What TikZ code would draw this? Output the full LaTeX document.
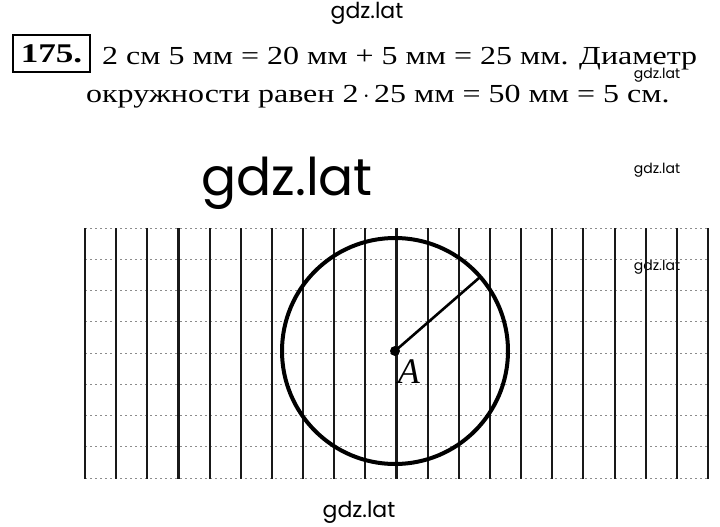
\documentclass[tikz,border=0pt]{standalone}
\usepackage{fontspec}
\usetikzlibrary{calc}
\setmainfont{Liberation Serif}
\newfontfamily\bodyfont[FakeStretch=1.23]{Liberation Serif}
\newfontfamily\numfont[FakeStretch=1.3]{Liberation Serif}
\newfontfamily\wmfont{Poppins}
\begin{document}
\begin{tikzpicture}[x=1pt,y=-1pt,
  txt/.style={font=\bodyfont\fontsize{26}{30}\selectfont, inner sep=0pt, anchor=base west},
  wm/.style={font=\wmfont\fontsize{#1}{#1}\selectfont, inner sep=0pt},
  vline/.style={line width=2.1pt, black!90},
  hline/.style={line width=1pt, black!45, dash pattern=on 2pt off 3pt},
  circ/.style={line width=4pt, black}]
\useasboundingbox (0,0) rectangle (720,527);
% watermarks
\node[wm=22] (w1) at (367,13) {gdz.lat};
\node[wm=14] (w2) at (657,75) {gdz.lat};
\node[wm=52] (w3) at (287,183) {gdz.lat};
\node[wm=14] (w4) at (657,170) {gdz.lat};
\node[wm=14] (w5) at (657,267) {gdz.lat};
\node[wm=22] (w6) at (359,512) {gdz.lat};
% header
\node[draw, line width=1.2pt, inner sep=0pt, minimum width=77pt, minimum height=37pt,
      font=\numfont\bfseries\fontsize{27}{30}\selectfont] (num) at (51.5,53.5) {175.};
\node[txt] (l1) at (102,64) {2 см 5 мм = 20 мм + 5 мм = 25 мм. Диаметр};
\node[txt] (l2) at (86,102) {окружности равен 2\,$\cdot$\,25 мм = 50 мм = 5 см.};
% grid
\foreach \i in {0,...,8} {
  \draw[hline] (85,228+31.25*\i) -- (708,228+31.25*\i);
}
\foreach \i in {0,...,20} {
  \draw[vline] (85+31.15*\i,228) -- (85+31.15*\i,479);
}
% circle
\coordinate (A) at (395,351);
\draw[circ] (A) circle (113);
\coordinate (P) at ($(A)+(-41:113)$);
\fill (A) circle (5);
\draw[line width=2.6pt] (A) -- (P);
\node[font=\fontsize{36}{36}\selectfont, inner sep=0pt] (lA) at (409,372) {\textit{A}};
\end{tikzpicture}
\end{document}
